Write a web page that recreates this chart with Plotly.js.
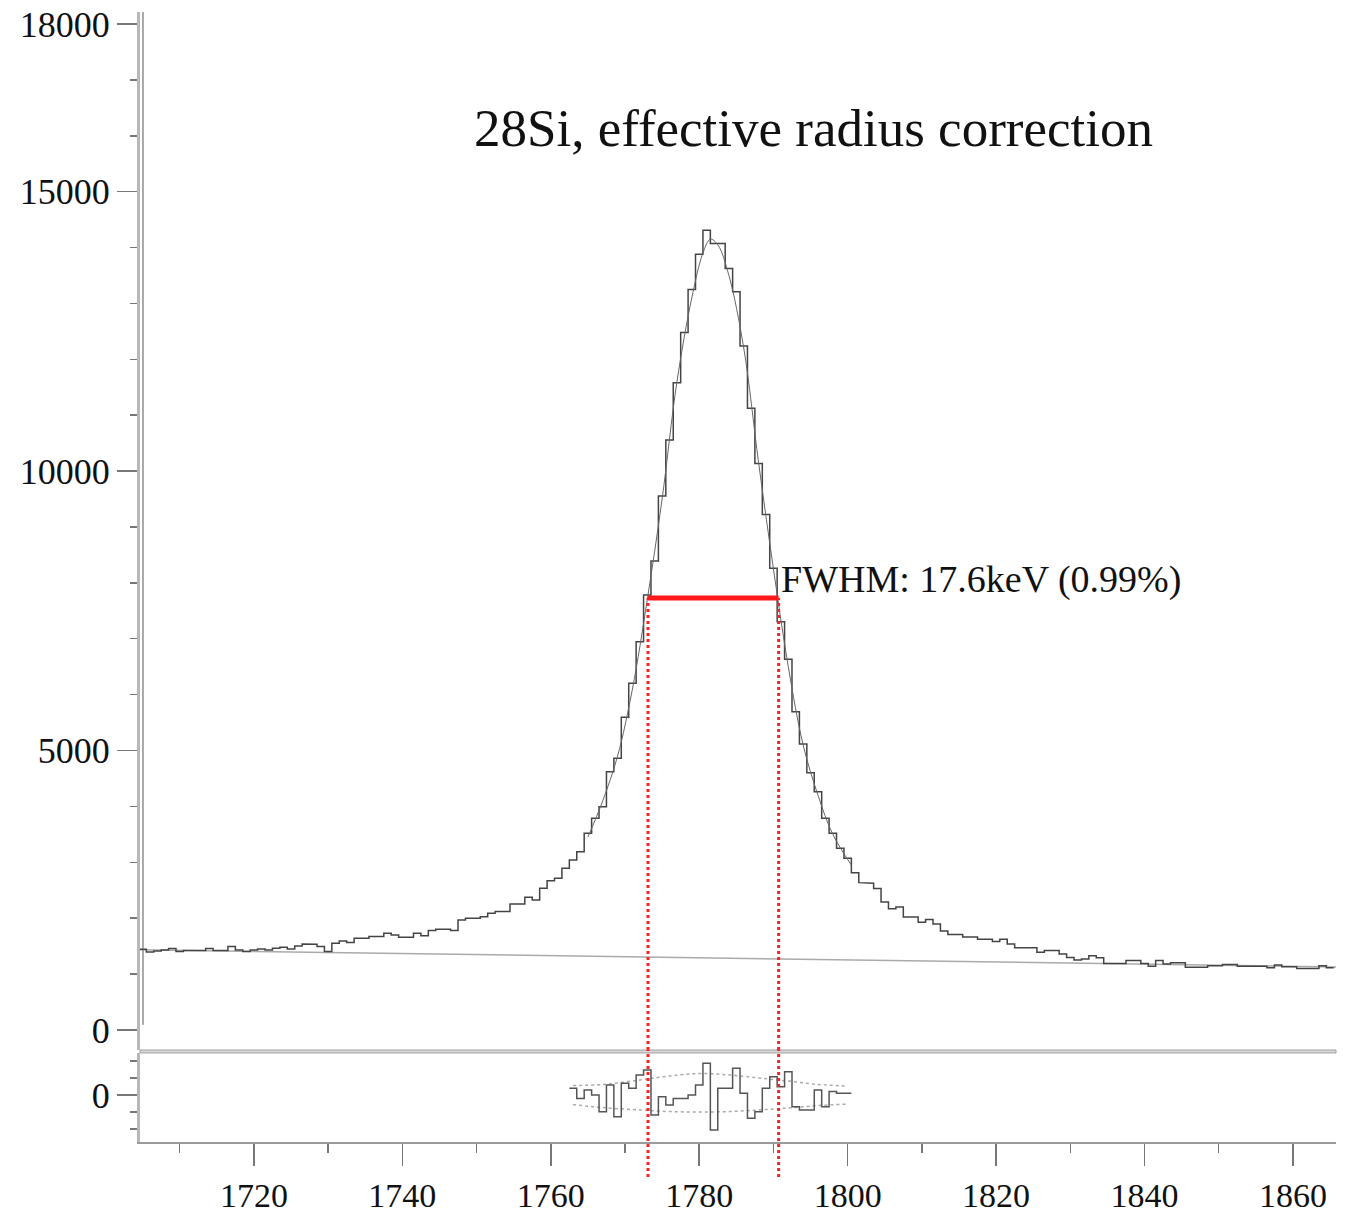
<!DOCTYPE html>
<html><head><meta charset="utf-8">
<script src="https://cdn.plot.ly/plotly-3.0.1.min.js"></script>
<style>html,body{margin:0;padding:0;background:#fff;} #chart{width:1345px;height:1216px;}</style>
</head><body><div id="chart"></div>
<script>
// ---- data ----
const binStart = 1705;   // keV, centre of first bin
const binWidth = 1;      // keV
const counts = [
 1444,1395,1410,1431,1455,1401,1419,1419,1419,1455, // 1705-1714
 1419,1419,1491,1431,1401,1431,1449,1431,1461,1479, // 1715-1724
 1449,1503,1538,1533,1491,1401,1551,1592,1562,1640, // 1725-1734
 1640,1670,1670,1730,1700,1658,1658,1730,1685,1777, // 1735-1744
 1801,1801,1777,1968,1998,1998,2027,2087,2117,2117, // 1745-1754
 2254,2254,2373,2326,2535,2668,2714,2893,3041,3190, // 1755-1764
 3518,3787,3995,4621,4860,5594,6202,6947,7782,8390, // 1765-1774
 9553,10555,11580,12480,13250,13880,14311,14073,14073,13626, // 1775-1784
 13208,12240,11122,10137,9225,8259,7304,6631,5694,5116, // 1785-1794
 4603,4263,3787,3518,3250,3071,2814,2635,2625,2530, // 1795-1804
 2290,2170,2200,2021,2021,1927,1977,1896,1771,1705, // 1805-1814
 1705,1664,1664,1623,1623,1580,1623,1535,1472,1472, // 1815-1824
 1472,1390,1422,1422,1360,1295,1250,1270,1327,1290, // 1825-1834
 1190,1190,1190,1240,1240,1190,1140,1240,1180,1200, // 1835-1844
 1200,1120,1120,1120,1150,1150,1170,1170,1140,1140, // 1845-1854
 1140,1140,1110,1160,1130,1130,1100,1100,1100,1150, // 1855-1864
 1110                                               // 1865
];
const bgE = [1704, 1866];
const bgV = [1434, 1127];
const fitE = [1765,1767,1769,1771,1773,1775,1777,1779,1780.5,1781.5,1782.5,1784,1786,1788,1790,1792,1794,1796,1798,1800.5];
const fitV = [3450,4100,4900,6100,7700,9500,11600,13100,13900,14150,14050,13500,12200,10150,8250,6500,5100,4200,3500,2950];
const resStart = 1763;
const resV = [0.39,-0.2,0.29,0,-0.98,0.59,-1.27,0.69,0.39,1.18,
              1.47,-1.18,-0.1,-0.59,-0.2,-0.2,0,0.59,1.86,-2.06,
              0.39,0.39,1.57,0.1,-1.37,-0.98,0.39,1.08,0.49,1.37,
              -0.69,-0.88,-0.88,0.29,-0.69,0.2,0.1,0.1];
const envE  = [1763,1767,1772,1776,1780,1784,1788,1792,1796,1800];
const envUp = [0.56,0.62,0.88,1.12,1.26,1.18,1.0,0.82,0.62,0.53];
const envLo = [-0.56,-0.74,-0.88,-0.97,-1.0,-0.97,-0.88,-0.76,-0.62,-0.53];
const fwhmLeft = 1773.1, fwhmRight = 1790.7, fwhmLevel = 7728;
const titleText = '28Si, effective radius correction';
const fwhmText = 'FWHM: 17.6keV (0.99%)';
const yTicks = [0, 5000, 10000, 15000, 18000];

// ---- helpers ----
function steps(start, w, vals){
  const xs=[], ys=[];
  vals.forEach((v,i)=>{ const c=start+i*w; xs.push(c-w/2, c+w/2); ys.push(v, v); });
  return {x:xs, y:ys};
}
const h = steps(binStart, binWidth, counts);
const r = steps(resStart, binWidth, resV);

const serif = "Liberation Serif, Times New Roman, serif";
const mainDom = [0.0814, 1];
const resDom = [0, 0.0788];
const yRange = [-360, 18215];
const tickCol = '#777';

const traces = [
  {x:bgE, y:bgV, mode:'lines', line:{color:'#aaaaaa', width:1.5}, xaxis:'x', yaxis:'y', hoverinfo:'skip'},
  {x:h.x, y:h.y, mode:'lines', line:{color:'#444', width:1.5}, xaxis:'x', yaxis:'y'},
  {x:fitE, y:fitV, mode:'lines', line:{color:'#666', width:1, shape:'spline'}, xaxis:'x', yaxis:'y'},
  {x:[fwhmLeft, fwhmRight], y:[fwhmLevel, fwhmLevel], mode:'lines', line:{color:'#ff1a1a', width:5}, xaxis:'x', yaxis:'y'},
  {x:envE, y:envUp, mode:'lines', line:{color:'#aaaaaa', width:1.5, dash:'dot', shape:'spline'}, xaxis:'x', yaxis:'y2'},
  {x:envE, y:envLo, mode:'lines', line:{color:'#aaaaaa', width:1.5, dash:'dot', shape:'spline'}, xaxis:'x', yaxis:'y2'},
  {x:r.x, y:r.y, mode:'lines', line:{color:'#555', width:1.5}, xaxis:'x', yaxis:'y2'}
];

const redDot = {color:'#ff2020', width:3, dash:'dot'};
const shapes = [
  {type:'rect', xref:'paper', yref:'paper', x0:0, x1:1, y0:resDom[1], y1:mainDom[0], fillcolor:'#d8d8d8', line:{color:'#a0a0a0', width:1}, layer:'above'},
  {type:'line', xref:'x', yref:'y', x0:fwhmLeft, x1:fwhmLeft, y0:yRange[0], y1:fwhmLevel, line:redDot},
  {type:'line', xref:'x', yref:'y', x0:fwhmRight, x1:fwhmRight, y0:yRange[0], y1:fwhmLevel, line:redDot},
  {type:'line', xref:'x', yref:'paper', x0:fwhmLeft, x1:fwhmLeft, y0:-0.031, y1:mainDom[0], line:redDot},
  {type:'line', xref:'x', yref:'paper', x0:fwhmRight, x1:fwhmRight, y0:-0.031, y1:mainDom[0], line:redDot},
  {type:'line', xref:'paper', yref:'y', x0:0.0025, x1:0.0025, y0:90, y1:yRange[1], line:{color:'#555', width:1}}
];

const layout = {
  width:1345, height:1216,
  margin:{l:140, r:9, t:12, b:74},
  paper_bgcolor:'#fff', plot_bgcolor:'#fff', showlegend:false,
  font:{family:serif, color:'#111', size:36},
  xaxis:{range:[1704.65,1865.8], anchor:'y2', showline:true, linecolor:'#9a9a9a', linewidth:2,
    ticks:'outside', ticklen:22, tickwidth:1.5, tickcolor:tickCol, tick0:1700, dtick:20,
    showgrid:false, zeroline:false, tickfont:{family:serif, size:34, color:'#111'}, ticklabelstandoff:0,
    minor:{ticks:'outside', ticklen:9, tickwidth:1.5, tickcolor:tickCol, tick0:1700, dtick:10, showgrid:false}},
  yaxis:{domain:mainDom, range:yRange, anchor:'x', showline:true, linecolor:'#b8b8b8', linewidth:3,
    ticks:'outside', ticklen:20, tickwidth:1.5, tickcolor:tickCol, tickmode:'array', tickvals:yTicks,
    ticktext:yTicks.map(String), showgrid:false, zeroline:false, tickfont:{family:serif, size:36, color:'#111'},
    minor:{ticks:'outside', ticklen:7, tickwidth:1.5, tickcolor:tickCol, tick0:0, dtick:1000, showgrid:false}},
  yaxis2:{domain:resDom, range:[-2.76,2.47], anchor:'x', showline:true, linecolor:'#b8b8b8', linewidth:3,
    ticks:'outside', ticklen:20, tickwidth:1.5, tickcolor:tickCol, tickmode:'array', tickvals:[0], ticktext:['0'],
    showgrid:false, zeroline:false, tickfont:{family:serif, size:36, color:'#111'},
    minor:{ticks:'outside', ticklen:7, tickwidth:1.5, tickcolor:tickCol, tick0:0, dtick:1, showgrid:false}},
  shapes:shapes,
  annotations:[
    {xref:'paper', yref:'paper', x:0.563, y:0.897, text:titleText, showarrow:false, xanchor:'center', yanchor:'middle',
     font:{family:serif, size:53, color:'#111'}},
    {xref:'x', yref:'y', x:fwhmRight, y:fwhmLevel, text:fwhmText, showarrow:false, xanchor:'left', yanchor:'bottom',
     yshift:-5, font:{family:serif, size:38, color:'#111'}}
  ]
};
Plotly.newPlot('chart', traces, layout, {staticPlot:true, displayModeBar:false});
</script></body></html>
